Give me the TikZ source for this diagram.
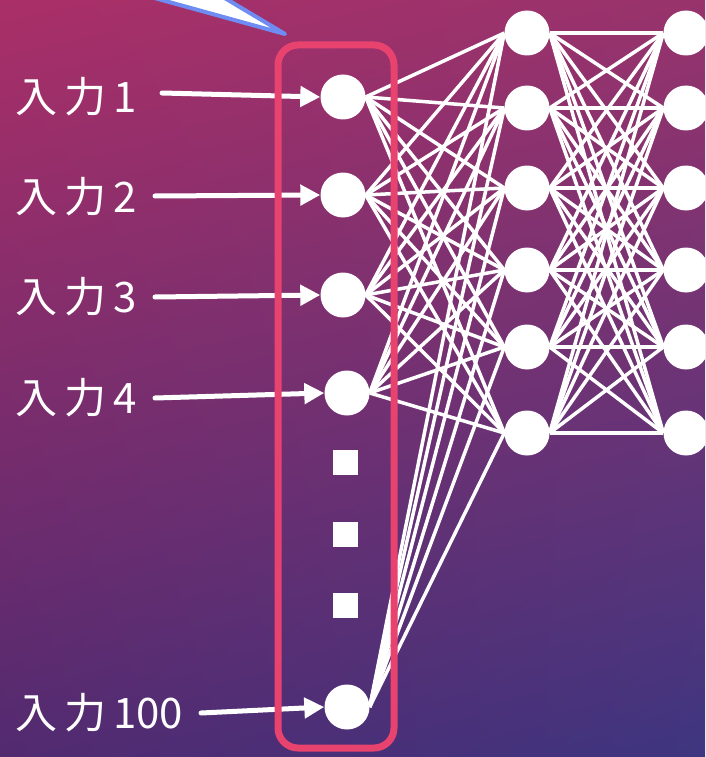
\documentclass[tikz,border=0pt]{standalone}
\usepackage{fontspec}
\newfontfamily\jp{Noto Sans CJK JP}
\usetikzlibrary{arrows.meta,shadings}
\definecolor{boxred}{HTML}{E8426E}
\definecolor{callblue}{HTML}{6F8CF2}
\definecolor{bgUL}{HTML}{AA2F68}
\definecolor{bgUR}{HTML}{98336C}
\definecolor{bgLL}{HTML}{522A70}
\definecolor{bgLR}{HTML}{3E3580}
\begin{document}
\begin{tikzpicture}[x=1pt,y=-1pt,
  neuron/.style={circle,fill=white,minimum size=45pt,inner sep=0pt},
  dotsq/.style={rectangle,fill=white,minimum size=25pt,inner sep=0pt},
  inlabel/.style={anchor=west,text=white,font=\jp\fontsize{42}{44}\selectfont,inner sep=0pt},
  arr/.style={draw=white,line width=5pt,line cap=round,-{Triangle[length=20pt,width=20pt]}},
  wire/.style={draw=white,line width=3.5pt},
  redbox/.style={draw=boxred,line width=7pt,rounded corners=20pt}
]
\clip (0,0) rectangle (705,757);
\shade[upper left=bgUL,upper right=bgUR,lower left=bgLL,lower right=bgLR] (0,0) rectangle (705,757);

% callout tail
\filldraw[fill=white,draw=callblue,line width=4pt,line join=round] (140,-6) -- (285,34) -- (218,-6);

% input layer
\node[neuron] (i1) at (343,97) {};
\node[neuron] (i2) at (343,195) {};
\node[neuron] (i3) at (343,295) {};
\node[neuron] (i4) at (347,393) {};
\node[neuron] (i100) at (347,707) {};
\node[dotsq] (d1) at (345,462) {};
\node[dotsq] (d2) at (345,534) {};
\node[dotsq] (d3) at (345,605) {};

% hidden layers
\foreach \k/\y in {1/33,2/108,3/188,4/270,5/347,6/433} {
  \node[neuron] (h\k) at (527,\y) {};
  \node[neuron] (g\k) at (686,\y) {};
}

% connections
\foreach \i in {i1,i2,i3,i4,i100} {
  \foreach \k in {1,...,6} {
    \draw[wire] (\i.east) -- (h\k.west);
  }
}
\foreach \a in {1,...,6} {
  \foreach \b in {1,...,6} {
    \draw[wire] (h\a.east) -- (g\b.west);
  }
}

% labels and arrows
\node[inlabel] (l1) at (15,97) {入\,力\,1};
\node[inlabel] (l2) at (15,197) {入\,力\,2};
\node[inlabel] (l3) at (15,297) {入\,力\,3};
\node[inlabel] (l4) at (15,398) {入\,力\,4};
\node[inlabel] (l100) at (15,713) {入\,力\,100};
\coordinate (s1) at (162,93);
\coordinate (s2) at (155,196);
\coordinate (s3) at (155,297);
\coordinate (s4) at (155,398);
\coordinate (s100) at (201,713);
\draw[arr] (s1) -- (i1.west);
\draw[arr] (s2) -- (i2.west);
\draw[arr] (s3) -- (i3.west);
\draw[arr] (s4) -- (i4.west);
\draw[arr] (s100) -- (i100.west);

% red selection box
\draw[redbox] (278,45) rectangle (394,748);
\end{tikzpicture}
\end{document}
